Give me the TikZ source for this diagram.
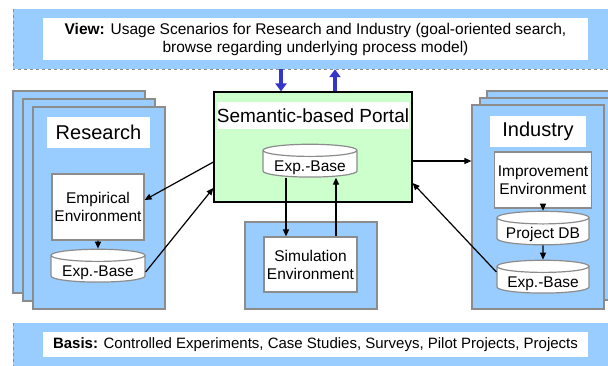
\documentclass[tikz,border=0pt]{standalone}
\usepackage{fontspec}
\setmainfont{Liberation Sans}
\usetikzlibrary{arrows.meta,shapes.geometric,calc}
\definecolor{panelblue}{HTML}{99CCFF}
\definecolor{portalgreen}{HTML}{CCFFCC}
\definecolor{framegray}{HTML}{8C8C8C}
\definecolor{viewblue}{HTML}{3535CC}

\begin{document}
\begin{tikzpicture}[
  x=1pt, y=-1pt,
  >={Triangle[length=7pt,width=6pt]},
  flow/.style={->, draw=black, line width=1.2pt},
  viewflow/.style={-{Triangle[length=8pt,width=11pt]}, draw=viewblue, line width=3.5pt},
  band/.style={fill=panelblue, minimum width=599pt},
  bandedge/.style={draw=framegray, dashed, line width=0.6pt},
  page/.style={draw=framegray, line width=1.2pt, fill=panelblue, minimum width=132pt, minimum height=202pt},
  tagbox/.style={fill=white, inner sep=0pt, font=\fontsize{20}{24}\selectfont},
  envbox/.style={draw=framegray, fill=white, line width=1.2pt, align=center, inner sep=0pt, font=\fontsize{15.5}{18}\selectfont},
  dbase/.style={cylinder, shape border rotate=90, aspect=0.17, draw=framegray, fill=white, line width=1.2pt,
    inner sep=0pt, text height=14pt, text depth=-5pt, font=\fontsize{15.5}{18}\selectfont}
]
  \useasboundingbox (0,0) rectangle (608,365);

  % view and basis bands
  \node[band, minimum height=60pt] (viewband) at (312.5,39) {};
  \draw[bandedge] (viewband.north west) -- (viewband.south west) -- (viewband.south east);
  \node[fill=white, minimum width=545pt, minimum height=42pt, inner sep=0pt, align=center,
        font=\fontsize{15.5}{18}\selectfont] (view) at (315.5,39)
    {\textbf{View:} Usage Scenarios for Research and Industry (goal-oriented search,\\browse regarding underlying process model)};
  \node[band, minimum height=45pt] (basisband) at (312.5,345.5) {};
  \draw[bandedge] (basisband.north west) -- (basisband.south west);
  \node[fill=white, minimum width=545pt, minimum height=25pt, inner sep=0pt,
        font=\fontsize{15}{18}\selectfont] (basis) at (315.5,344.5)
    {\textbf{Basis:} Controlled Experiments, Case Studies, Surveys, Pilot Projects, Projects};

  % research side
  \node[page] (resback) at (79,192) {};
  \node[page] (resmid) at (89,200) {};
  \node[page] (research) at (99,208) {};
  \node[tagbox, minimum width=103pt, minimum height=31pt] (restag) at (98.5,132.5) {Research};
  \node[envbox, minimum width=92pt, minimum height=66pt] (empirical) at (98,207) {Empirical\\Environment};
  \node[dbase, minimum width=94pt] (resbase) at (98,269) {Exp.-Base};

  % portal
  \node[draw=black, line width=1.2pt, fill=portalgreen, minimum width=198pt, minimum height=110pt] (portal) at (313,147) {};
  \node[fill=white, inner sep=0pt, minimum width=192pt, minimum height=27pt,
        font=\fontsize{19}{22}\selectfont] (portaltag) at (313,115.5) {Semantic-based Portal};
  \node[dbase, minimum width=94pt] (portalbase) at (310,164) {Exp.-Base};

  % simulation
  \node[draw=framegray, line width=1.2pt, fill=panelblue, minimum width=132pt, minimum height=87pt] (simframe) at (311,265.5) {};
  \node[envbox, minimum width=93pt, minimum height=55pt] (simenv) at (310.5,264.5) {Simulation\\Environment};

  % industry side
  \node[page] (indback) at (553,192) {};
  \node[page] (indmid) at (546,199) {};
  \node[page, minimum height=204pt] (industry) at (538,207) {};
  \node[tagbox, minimum width=96pt, minimum height=31pt] (indtag) at (538,131.5) {Industry};
  \node[envbox, minimum width=97pt, minimum height=56pt] (improvement) at (543,180) {Improvement\\Environment};
  \node[dbase, minimum width=92pt] (projectdb) at (543,231.5) {Project DB};
  \node[dbase, minimum width=92pt] (indbase) at (543,280) {Exp.-Base};

  % connectors
  \draw[viewflow] ([xshift=-32pt]viewband.south -| portal.north) -- ([xshift=-32pt]portal.north);
  \draw[viewflow] ([xshift=22pt]portal.north) -- ([xshift=22pt]viewband.south -| portal.north);

  \draw[flow] ([yshift=-15pt]portal.west) -- ([yshift=7pt]empirical.east);
  \draw[flow] ([yshift=-3pt]resbase.east) -- ([yshift=-41pt]portal.west);
  \draw[flow] (empirical) -- (resbase);

  \draw[flow] ([xshift=-24pt]portalbase.south) -- ([xshift=-24pt]portalbase.south |- simenv.north);
  \draw[flow] ([xshift=26pt]portalbase.south |- simenv.north) -- ([xshift=26pt]portalbase.south);

  \draw[flow] ([yshift=-14pt]portal.east) -- ([yshift=-14pt]portal.east -| industry.west);
  \draw[flow] ([yshift=8pt]indbase.west) -- ([yshift=-36pt]portal.east);
  \draw[flow] (improvement) -- (projectdb);
  \draw[flow] (projectdb) -- (indbase);
\end{tikzpicture}
\end{document}
